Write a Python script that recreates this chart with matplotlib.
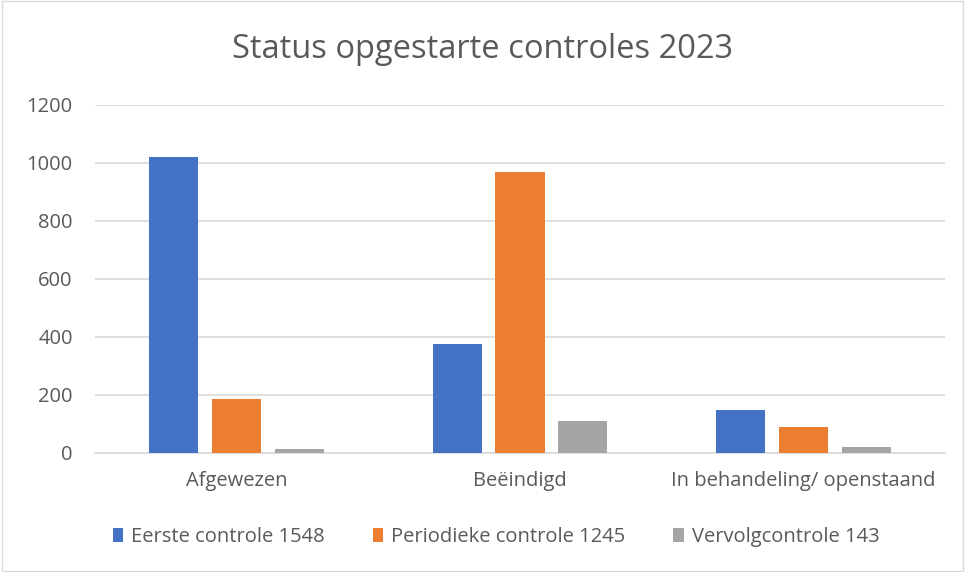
import matplotlib.pyplot as plt
import numpy as np
from matplotlib.patches import Rectangle

plt.rcParams['font.family'] = ['Open Sans', 'DejaVu Sans']

categories = ['Afgewezen', 'Beëindigd', 'In behandeling/ openstaand']
series_names = ['Eerste controle 1548', 'Periodieke controle 1245', 'Vervolgcontrole 143']
eerste = [1022, 376, 150]
periodiek = [187, 970, 88]
vervolg = [14, 110, 19]
colors = ['#4472C4', '#ED7D31', '#A5A5A5']
yticks = [0, 200, 400, 600, 800, 1000, 1200]

fig = plt.figure(figsize=(9.65, 5.72), dpi=100)
ax = fig.add_axes([95 / 965, 1 - 453 / 572, 850 / 965, 348 / 572])

x = np.arange(len(categories))
w = 0.173
step = 0.222
for i, (vals, name, c) in enumerate(zip([eerste, periodiek, vervolg], series_names, colors)):
    ax.bar(x + (i - 1) * step, vals, width=w, color=c, label=name, zorder=3)

ax.set_xlim(-0.5, 2.5)
ax.set_ylim(0, 1200)
ax.set_yticks(yticks)
ax.set_xticks(x)
ax.set_xticklabels(categories)
ax.grid(axis='y', color='#d9d9d9', linewidth=1.2, zorder=0)
for s in ['top', 'right', 'left']:
    ax.spines[s].set_visible(False)
ax.spines['bottom'].set_color('#d9d9d9')
ax.spines['bottom'].set_linewidth(1.2)
ax.tick_params(axis='both', length=0, colors='#595959', labelsize=14.5)
ax.tick_params(axis='y', pad=16)
ax.tick_params(axis='x', pad=13)

fig.text(0.5, 0.913, 'Status opgestarte controles 2023', ha='center', va='center',
         fontsize=23.5, color='#595959')
fig.legend(loc='center', bbox_to_anchor=(0.514, 0.061), ncol=3, frameon=False,
           fontsize=14.5, labelcolor='#595959', handlelength=0.5, handleheight=0.7,
           handletextpad=0.4, columnspacing=2.4)

fig.patches.append(Rectangle((0.002, 0.002), 0.996, 0.996, transform=fig.transFigure,
                             fill=False, edgecolor='#d9d9d9', linewidth=1))

fig.savefig('out.png', dpi=100)
